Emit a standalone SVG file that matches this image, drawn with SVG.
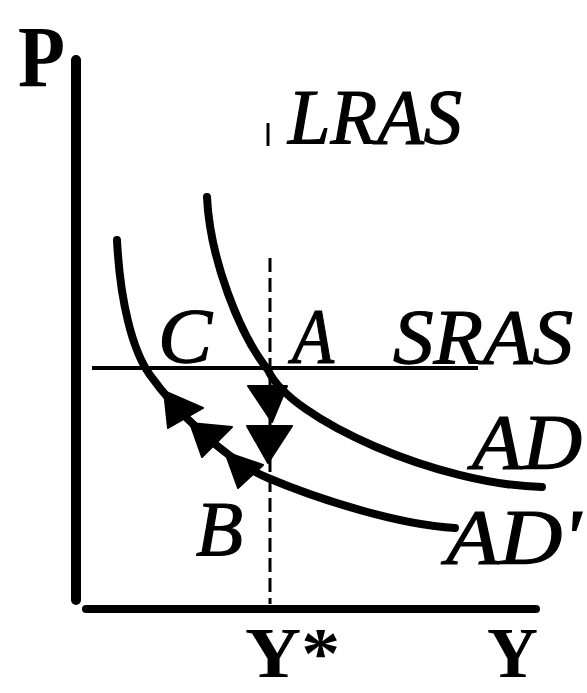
<svg xmlns="http://www.w3.org/2000/svg" width="587" height="693" viewBox="0 0 587 693">
<style>
.bold{font-family:"Liberation Serif","Times New Roman",serif;font-weight:bold;fill:#000}
.it{font-family:"Liberation Serif","Times New Roman",serif;font-style:italic;fill:#000;stroke:#000;stroke-width:1.2}
.curve{fill:none;stroke:#000;stroke-width:8;stroke-linecap:round;stroke-linejoin:round}
.axis{stroke:#000;stroke-linecap:round}
.arrow{fill:#000;stroke:#000;stroke-width:2;stroke-linejoin:round}
</style>
<rect width="587" height="693" fill="#fff"/>
<g id="axes">
<line class="axis" x1="76" y1="60" x2="76" y2="600" stroke-width="10"/>
<line class="axis" x1="86" y1="609" x2="536" y2="609" stroke-width="8"/>
<text class="bold" x="18" y="86" font-size="86" textLength="47" lengthAdjust="spacingAndGlyphs">P</text>
<text class="bold" x="245" y="677" font-size="72" textLength="95" lengthAdjust="spacingAndGlyphs">Y*</text>
<text class="bold" x="487" y="677" font-size="72" textLength="51" lengthAdjust="spacingAndGlyphs">Y</text>
</g>
<g id="LRAS">
<line x1="268" y1="123" x2="268" y2="146" stroke="#000" stroke-width="3"/>
<line x1="270" y1="258" x2="270" y2="604" stroke="#000" stroke-width="3" stroke-dasharray="14 6"/>
<text class="it" x="288" y="143" font-size="78" textLength="174" lengthAdjust="spacingAndGlyphs">LRAS</text>
</g>
<g id="SRAS">
<line x1="92" y1="368" x2="478" y2="368" stroke="#000" stroke-width="4"/>
<text class="it" x="393" y="363" font-size="78" textLength="180" lengthAdjust="spacingAndGlyphs">SRAS</text>
</g>
<g id="AD">
<path class="curve" d="M207,197 C210,260 240,335 268,370 C290,420 440,485 542,487"/>
<text class="it" x="472" y="468" font-size="78" textLength="110" lengthAdjust="spacingAndGlyphs">AD</text>
</g>
<g id="ADprime">
<path class="curve" d="M117,240 C120,300 132,350 150,375 C175,410 225,460 268,478 C320,500 400,525 455,528"/>
<text class="it" x="446" y="563" font-size="78" textLength="135" lengthAdjust="spacingAndGlyphs">AD'</text>
</g>
<g id="pointA"><text class="it" x="292" y="362" font-size="78" textLength="42" lengthAdjust="spacingAndGlyphs">A</text></g>
<g id="pointB"><text class="it" x="196" y="555" font-size="78" textLength="47" lengthAdjust="spacingAndGlyphs">B</text></g>
<g id="pointC"><text class="it" x="158" y="362" font-size="78" textLength="54" lengthAdjust="spacingAndGlyphs">C</text></g>
<g id="connectors">
<polygon class="arrow" points="248,386 287,386 272,422"/>
<polygon class="arrow" points="247,426 292,426 268,463"/>
<polygon class="arrow" points="164,391 203,408 168,428"/>
<polygon class="arrow" points="190,423 232,427 202,457"/>
<polygon class="arrow" points="225,452 263,465 238,488"/>
</g>
</svg>
